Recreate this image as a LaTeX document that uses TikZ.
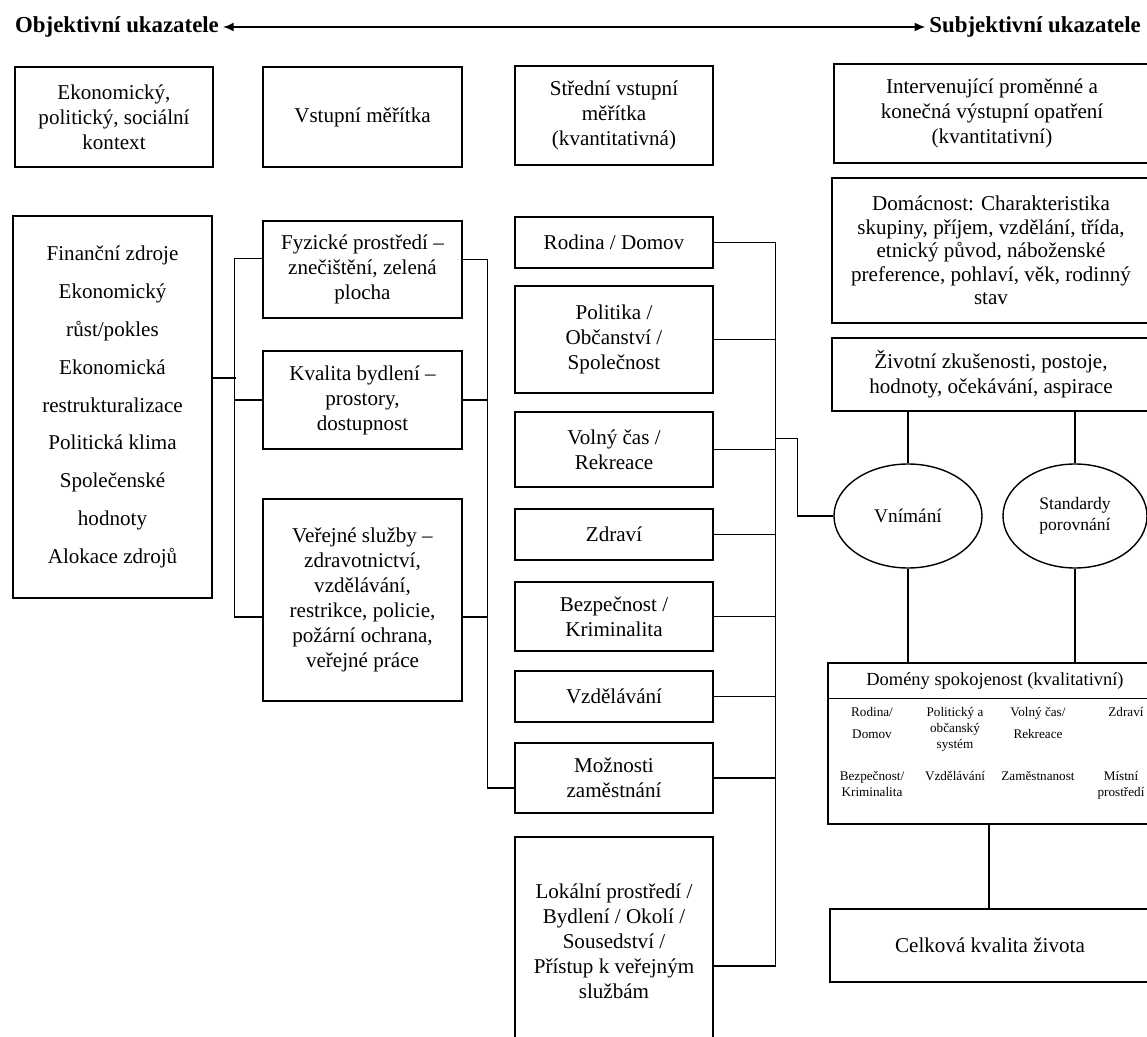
\documentclass[tikz,border=0pt]{standalone}
\usepackage{fontspec}
\setmainfont{Liberation Serif}
\usepackage{tikz}
\usetikzlibrary{shapes.geometric}
\usetikzlibrary{arrows.meta}
\usetikzlibrary{calc}

\begin{document}
\begin{tikzpicture}[x=0.02cm, y=-0.02cm, line width=0.8pt,
        box/.style={draw, line width=0.8pt, align=center, inner sep=2pt,
            font=\fontsize{12}{14.2}\selectfont},
        oval/.style={draw, ellipse, line width=0.8pt, align=center, inner sep=0pt},
        cell/.style={anchor=north, align=center, inner sep=0pt,
            font=\fontsize{7.5}{9}\selectfont}]
        \def\px{0.02cm}
        \useasboundingbox (0,0) rectangle (1147,1037);

        % header
        \node[anchor=west, inner sep=2pt, font=\fontsize{13}{15}\selectfont\bfseries] (obj) at (11,27) {Objektivní ukazatele};
        \node[anchor=east, inner sep=2pt, font=\fontsize{13}{15}\selectfont\bfseries] (subj) at (1145,27) {Subjektivní ukazatele};
        \draw[{Latex[length=6pt,width=5pt]}-{Latex[length=6pt,width=5pt]}] (obj.east) -- (subj.west);

        % top row
        \node[box, minimum width=198*\px, minimum height=100*\px] (ctx) at (114,117) {Ekonomický,\\politický, sociální\\kontext};
        \node[box, minimum width=199*\px, minimum height=100*\px] (vst) at (362.5,117) {Vstupní měřítka};
        \node[box, minimum width=198*\px, minimum height=99*\px] (stred) at (614,115.5) {Střední vstupní\\měřítka\\(kvantitativná)};
        \node[box, minimum width=316*\px, minimum height=99*\px] (interv) at (992,113.5) {Intervenující proměnné a\\konečná výstupní opatření\\(kvantitativní)};

        % objective side
        \node[box, minimum width=199*\px, minimum height=382*\px, font=\fontsize{12}{21.5}\selectfont] (fin) at (112.5,407)
            {Finanční zdroje\\Ekonomický\\růst/pokles\\Ekonomická\\restrukturalizace\\Politická klima\\Společenské\\hodnoty\\Alokace zdrojů};
        \node[box, minimum width=199*\px, minimum height=97*\px] (fyz) at (362.5,269.5) {Fyzické prostředí –\\znečištění, zelená\\plocha};
        \node[box, minimum width=199*\px, minimum height=98*\px] (kval) at (362.5,400) {Kvalita bydlení –\\prostory,\\dostupnost};
        \node[box, minimum width=199*\px, minimum height=202*\px] (ver) at (362.5,600)
            {Veřejné služby –\\zdravotnictví,\\vzdělávání,\\restrikce, policie,\\požární ochrana,\\veřejné práce};

        % domains (quantitative)
        \node[box, minimum width=198*\px, minimum height=51*\px] (rod) at (614,242.5) {Rodina / Domov};
        \node[box, minimum width=198*\px, minimum height=107*\px] (pol) at (614,339.5) {Politika /\\Občanství /\\Společnost};
        \node[box, minimum width=198*\px, minimum height=75*\px] (vol) at (614,449.5) {Volný čas /\\Rekreace};
        \node[box, minimum width=198*\px, minimum height=51*\px] (zdr) at (614,534.5) {Zdraví};
        \node[box, minimum width=198*\px, minimum height=69*\px] (bez) at (614,616.5) {Bezpečnost /\\Kriminalita};
        \node[box, minimum width=198*\px, minimum height=51*\px] (vzd) at (614,696.5) {Vzdělávání};
        \node[box, minimum width=198*\px, minimum height=70*\px] (moz) at (614,778) {Možnosti\\zaměstnání};
        \node[box, minimum width=198*\px, minimum height=208*\px] (lok) at (614,941)
            {Lokální prostředí /\\Bydlení / Okolí /\\Sousedství /\\Přístup k veřejným\\službám};

        \draw ($(fin.east)+(0,-29)$) -- ++(23,0);
        \draw ($(fyz.west)+(0,-11)$) -- ++(-28,0) |- ($(ver.west)+(0,17)$);
        \draw (kval.west) -- ++(-28,0);
        \draw ($(fyz.east)+(0,-10)$) -- ++(25,0) |- ($(moz.west)+(0,10)$);
        \draw (kval.east) -- ++(25,0);
        \draw ($(ver.east)+(0,17)$) -- ++(25,0);

        \draw (rod.east) -- ++(62,0) |- ($(lok.east)+(0,25)$);
        \foreach \n in {pol, vol, zdr, bez, vzd, moz}
            \draw (\n.east) -- ++(62,0);

        % subjective side
        \node[box, minimum width=318*\px, minimum height=145*\px, font=\fontsize{12}{13.4}\selectfont] (dom) at (991,250.5)
            {Domácnost: Charakteristika\\skupiny, příjem, vzdělání, třída,\\etnický původ, náboženské\\preference, pohlaví, věk, rodinný\\stav};
        \node[box, minimum width=318*\px, minimum height=73*\px] (ziv) at (991,374.5) {Životní zkušenosti, postoje,\\hodnoty, očekávání, aspirace};
        \node[oval, minimum width=148*\px, minimum height=104*\px, font=\fontsize{11}{13}\selectfont] (vni) at (908,516) {Vnímání};
        \node[oval, minimum width=144*\px, minimum height=104*\px, font=\fontsize{10}{12}\selectfont] (std) at (1075,516) {Standardy\\porovnání};
        \node[box, minimum width=322*\px, minimum height=161*\px] (domeny) at (989,743.5) {};
        \node[box, minimum width=320*\px, minimum height=73*\px] (celk) at (990,945.5) {Celková kvalita života};

        \draw ($(vol.east)+(62,-11)$) -- ++(22,0) |- (vni.west);
        \draw (vni.north) -- (vni.north |- ziv.south);
        \draw (std.north) -- (std.north |- ziv.south);
        \draw (vni.south) -- (vni.south |- domeny.north);
        \draw (std.south) -- (std.south |- domeny.north);
        \draw (domeny.south) -- (domeny.south |- celk.north);

        % satisfaction domains
        \draw ($(domeny.north west)+(0,36)$) -- ($(domeny.north east)+(0,36)$);
        \node[inner sep=0pt, font=\fontsize{10.5}{12}\selectfont] (domtit) at (995,681) {Domény spokojenost (kvalitativní)};
        \node[cell, font=\fontsize{7.5}{12.5}\selectfont] (c1) at (872,707) {Rodina/\\Domov};
        \node[cell, font=\fontsize{7.5}{9}\selectfont] (c2) at (955,707) {Politický a\\občanský\\systém};
        \node[cell, font=\fontsize{7.5}{12.5}\selectfont] (c3) at (1038,707) {Volný čas/\\Rekreace};
        \node[cell] (c4) at (1126,707) {Zdraví};
        \node[cell] (c5) at (872,771) {Bezpečnost/\\Kriminalita};
        \node[cell] (c6) at (955,771) {Vzdělávání};
        \node[cell] (c7) at (1038,771) {Zaměstnanost};
        \node[cell] (c8) at (1121,771) {Místní\\prostředí};
    \end{tikzpicture}
\end{document}
